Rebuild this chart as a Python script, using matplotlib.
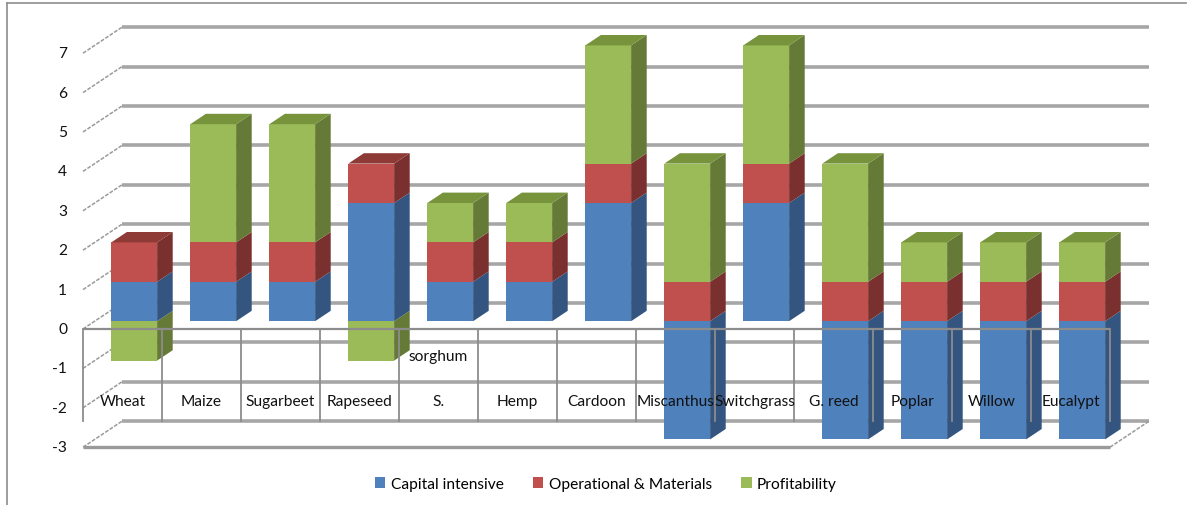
import matplotlib
matplotlib.use("Agg")
import matplotlib.pyplot as plt
from matplotlib.patches import Polygon, Patch
from matplotlib.lines import Line2D

# ---- data -------------------------------------------------------------
categories = ["Wheat", "Maize", "Sugarbeet", "Rapeseed", "S.\nsorghum", "Hemp",
              "Cardoon", "Miscanthus", "Switchgrass", "G. reed", "Poplar",
              "Willow", "Eucalypt"]
series_names = ["Capital intensive", "Operational & Materials", "Profitability"]
capital = [1, 1, 1, 3, 1, 1, 3, -3, 3, -3, -3, -3, -3]
operational = [1, 1, 1, 1, 1, 1, 1, 1, 1, 1, 1, 1, 1]
profitability = [-1, 3, 3, -1, 1, 1, 3, 3, 3, 3, 1, 1, 1]
y_ticks = [-3, -2, -1, 0, 1, 2, 3, 4, 5, 6, 7]

# ---- styling ----------------------------------------------------------
front_cols = ["#4F81BD", "#C0504D", "#9BBB59"]
side_cols = ["#34557F", "#7A302E", "#667A37"]
top_cols = ["#3E6597", "#8E3A37", "#77933C"]
FONT = "Lato"
plt.rcParams["font.family"] = [FONT, "DejaVu Sans"]
FS = 11.2

W, H = 1195, 506
PX_X, PX_Y = 79.0, 39.4          # pixels per category / per value unit
X0_PX, Y0_PX = 83.0, 330.0        # front-plane origin in pixels
DX, DY = 39.0 / PX_X, 26.0 / PX_Y  # full depth of the plot box (data units)
F0, F1 = 0.3, 0.7                  # bar depth range (fraction of the box)
BAR_W = 0.58
VMIN, VMAX = min(y_ticks), max(y_ticks)
n = len(categories)

fig = plt.figure(figsize=(W / 100, H / 100), dpi=100)
ax = fig.add_axes([0, 0, 1, 1])
ax.set_xlim(-X0_PX / PX_X, (W - X0_PX) / PX_X)
ax.set_ylim(-(H - Y0_PX) / PX_Y, Y0_PX / PX_Y)
ax.axis("off")

grid_c = "#A6A6A6"
front_c = "#8C8C8C"
text_c = "#111111"

# back wall gridlines and left wall diagonals
for v in y_ticks:
    ax.plot([DX, n + DX], [v + DY, v + DY], color=grid_c, lw=2.6,
            solid_capstyle="butt", zorder=1)
    ax.plot([0, DX], [v, v + DY], color="#9A9A9A", lw=1.1,
            linestyle=(0, (2.5, 1)), zorder=1)
    ax.text(-0.2, v, str(v), ha="right", va="center", fontsize=FS,
            color=text_c)

# floor front edge and right diagonal
ax.plot([0, n], [VMIN, VMIN], color="#9A9A9A", lw=2.4, zorder=1,
        solid_capstyle="butt")
ax.plot([n, n + DX], [VMIN, VMIN + DY], color="#9A9A9A", lw=1.1,
        linestyle=(0, (2.5, 1)), zorder=1)

# ---- stacked 3D bars ----------------------------------------------------
values = [capital, operational, profitability]
shift_x, shift_y = F0 * DX, F0 * DY
dep_x, dep_y = (F1 - F0) * DX, (F1 - F0) * DY

for i in range(n):
    pos, neg = 0.0, 0.0
    segs = []
    for s, vals in enumerate(values):
        v = vals[i]
        if v >= 0:
            segs.append((pos, pos + v, s))
            pos += v
        else:
            segs.append((neg + v, neg, s))
            neg += v
    segs.sort(key=lambda t: t[0])
    xc = i + 0.5 + shift_x
    xl, xr = xc - BAR_W / 2, xc + BAR_W / 2
    z = 3 + i * 0.01
    top_seg = max(segs, key=lambda t: t[1])
    for b, t, s in segs:
        ax.bar(xc, t - b, bottom=b + shift_y, width=BAR_W, color=front_cols[s],
               edgecolor="none", zorder=z)
        bb, tt = b + shift_y, t + shift_y
        ax.add_patch(Polygon([(xr, bb), (xr, tt), (xr + dep_x, tt + dep_y),
                              (xr + dep_x, bb + dep_y)], closed=True,
                             facecolor=side_cols[s], edgecolor="none", zorder=z))
    b, t, s = top_seg
    tt = t + shift_y
    ax.add_patch(Polygon([(xl, tt), (xr, tt), (xr + dep_x, tt + dep_y),
                          (xl + dep_x, tt + dep_y)], closed=True,
                         facecolor=top_cols[s], edgecolor="none", zorder=z))

# ---- category axis box drawn in front ----------------------------------
label_row = (Y0_PX - 402) / PX_Y
upper_row = (Y0_PX - 357) / PX_Y
ax.plot([0, n], [0, 0], color=front_c, lw=1.6, zorder=10,
        solid_capstyle="butt")
for k in range(n + 1):
    ax.plot([k, k], [0, VMIN + DY], color=front_c, lw=1.3, zorder=10)
for i, name in enumerate(categories):
    parts = name.split("\n")
    ax.text(i + 0.5, label_row, parts[0], ha="center", va="center",
            fontsize=FS, color=text_c, zorder=11)
    if len(parts) > 1:
        ax.text(i + 0.5, upper_row, parts[1], ha="center", va="center",
                fontsize=FS, color=text_c, zorder=11)

# ---- legend ------------------------------------------------------------
handles = [Patch(facecolor=c, edgecolor="none") for c in front_cols]
fig.legend(handles, series_names, loc="center", ncol=3,
           bbox_to_anchor=(606 / W, 1 - 485 / H), frameon=False,
           fontsize=FS, handlelength=0.65, handleheight=0.65,
           handletextpad=0.35, columnspacing=1.9)

# outer chart frame
fig.add_artist(Line2D([7 / W, 7 / W], [0, 1 - 4 / H], color="#8C8C8C", lw=1.2))
fig.add_artist(Line2D([7 / W, 1186 / W], [1 - 4 / H, 1 - 4 / H],
                      color="#8C8C8C", lw=1.2))

fig.savefig("out.png", dpi=100)
